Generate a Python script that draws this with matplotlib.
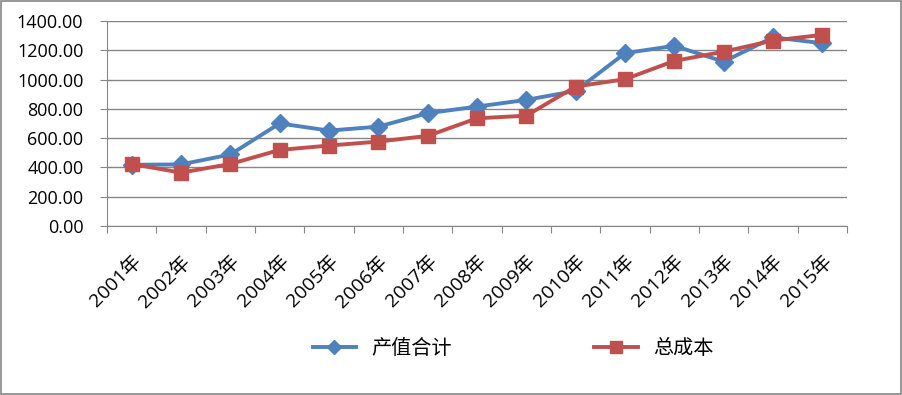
import matplotlib
matplotlib.use("Agg")
import matplotlib.pyplot as plt
from matplotlib.patches import Rectangle

plt.rcParams['font.family'] = ['Open Sans', 'Noto Sans CJK SC', 'DejaVu Sans']

# data
years = ['2001年', '2002年', '2003年', '2004年', '2005年', '2006年', '2007年', '2008年',
         '2009年', '2010年', '2011年', '2012年', '2013年', '2014年', '2015年']
output_total = [418, 420, 488, 700, 651, 678, 770, 815, 861, 922, 1180, 1230, 1122, 1288, 1248]
total_cost = [423, 364, 423, 519, 549, 576, 615, 735, 753, 952, 1002, 1127, 1190, 1266, 1305]
series_names = ['产值合计', '总成本']

blue = '#4F81BD'
red = '#C0504D'
grid_c = '#868686'

fig = plt.figure(figsize=(9.03, 3.95), dpi=100)
fig.patches.append(Rectangle((0.001, 0.002), 0.997, 0.995, transform=fig.transFigure,
                             fill=False, edgecolor=grid_c, linewidth=1.2))
ax = fig.add_axes([0.1185, 0.428, 0.8195, 0.519])

x = list(range(len(years)))
ax.plot(x, output_total, color=blue, lw=2.8, marker='D', markersize=9,
        label=series_names[0], zorder=3)
ax.plot(x, total_cost, color=red, lw=2.8, marker='s', markersize=10,
        label=series_names[1], zorder=4)

ax.set_xlim(-0.5, len(years) - 0.5)
ax.set_ylim(0, 1400)
ax.set_yticks(range(0, 1401, 200))
ax.set_yticklabels(['%.2f' % v for v in range(0, 1401, 200)], fontsize=13)
ax.yaxis.grid(True, color=grid_c, lw=1)
ax.set_axisbelow(True)

# category boundaries get the tick marks, centres get the labels
ax.set_xticks([i - 0.5 for i in range(len(years) + 1)])
ax.set_xticklabels([])
ax.set_xticks(x, minor=True)
ax.set_xticklabels(years, minor=True, rotation=45, ha='right', va='top',
                   rotation_mode='anchor', fontsize=14)
ax.tick_params(axis='x', which='minor', length=0, pad=19)
ax.tick_params(axis='x', which='major', length=5, color=grid_c)
ax.tick_params(axis='y', length=5, color=grid_c, pad=12)

for s in ['top', 'right']:
    ax.spines[s].set_visible(False)
for s in ['left', 'bottom']:
    ax.spines[s].set_color(grid_c)

leg = fig.legend(loc='center', bbox_to_anchor=(0.568, 0.118), ncol=2, frameon=False,
                 prop={'family': ['Noto Sans CJK SC'], 'size': 14.5},
                 columnspacing=7.1, handlelength=2.15, handletextpad=0.75, markerscale=0.8)

fig.savefig('out.png', dpi=100)
